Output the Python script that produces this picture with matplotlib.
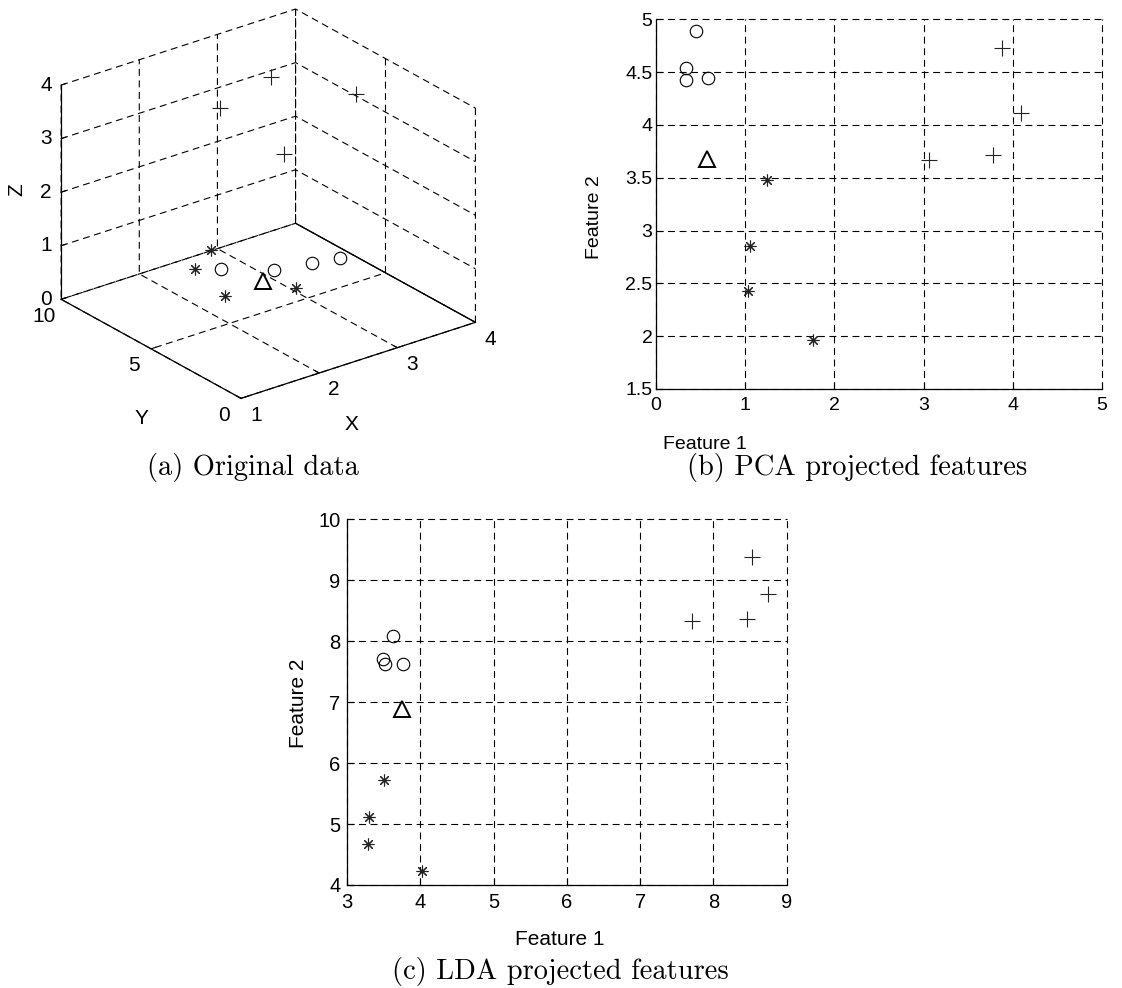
import matplotlib
matplotlib.use("Agg")
import matplotlib.pyplot as plt
from mpl_toolkits.mplot3d import Axes3D, proj3d  # noqa: F401

plt.rcParams["font.family"] = ["Liberation Sans", "DejaVu Sans"]
plt.rcParams["lines.scale_dashes"] = False

GRID_DASH = (0, (5, 3.3))

# ---- (a) original 3-D data ----
plus3_x = [3.20, 2.73, 3.64, 2.96]
plus3_y = [7.87, 8.69, 5.09, 6.13]
plus3_z = [3.5, 3.0, 3.5, 2.5]
circ3_x = [2.34, 2.75, 3.16, 3.46]
circ3_y = [6.95, 5.76, 5.43, 5.18]
circ3_z = [0.5, 0.5, 0.5, 0.5]
star3_x = [2.54, 2.13, 1.97, 2.67]
star3_y = [8.37, 7.47, 5.13, 4.21]
star3_z = [0.5, 0.5, 0.5, 0.5]
tri3_x = [2.50]
tri3_y = [5.30]
tri3_z = [0.5]
xticks3 = [1, 2, 3, 4]
yticks3 = [0, 5, 10]
zticks3 = [0, 1, 2, 3, 4]

# ---- (b) PCA projected features ----
pca_circ_x = [0.448, 0.332, 0.332, 0.586]
pca_circ_y = [4.89, 4.54, 4.426, 4.44]
pca_tri_x = [0.568]
pca_tri_y = [3.68]
pca_star_x = [1.247, 1.053, 1.034, 1.763]
pca_star_y = [3.476, 2.854, 2.428, 1.964]
pca_plus_x = [3.880, 4.089, 3.058, 3.783]
pca_plus_y = [4.732, 4.11, 3.665, 3.716]

# ---- (c) LDA projected features ----
lda_circ_x = [3.619, 3.492, 3.514, 3.765]
lda_circ_y = [8.085, 7.71, 7.63, 7.63]
lda_tri_x = [3.751]
lda_tri_y = [6.89]
lda_star_x = [3.496, 3.30, 3.282, 4.02]
lda_star_y = [5.72, 5.115, 4.68, 4.226]
lda_plus_x = [8.53, 8.74, 7.71, 8.453]
lda_plus_y = [9.385, 8.782, 8.326, 8.37]

captions = ["(a) Original data", "(b) PCA projected features",
            "(c) LDA projected features"]

STAR = (8, 2, 0)
mk_circ = dict(marker="o", mfc="none", mec="k", mew=0.8, ls="none", ms=9)
mk_star = dict(marker=STAR, mec="#222222", mew=0.8, ls="none", ms=8.5)
mk_plus = dict(marker="+", mec="#222222", mew=0.8, ls="none", ms=11)
mk_tri = dict(marker="^", mfc="none", mec="k", mew=1.4, ls="none", ms=11.3)

fig = plt.figure(figsize=(11.22, 9.88), dpi=100)


def px(x, y):
    return x / 1122.0, 1 - y / 988.0


# ---------------- 3-D panel ----------------
ax3 = fig.add_axes([-0.0243, 0.5516, 0.5156, 0.4717], projection="3d")
ax3.set_proj_type("ortho")
ax3.view_init(elev=25, azim=-127.5)
ax3.set_box_aspect((1, 1, 0.8))
ax3.set_xlim(1, 4)
ax3.set_ylim(0, 10)
ax3.set_zlim(0, 4)
ax3.set_xticks(xticks3)
ax3.set_yticks(yticks3)
ax3.set_zticks(zticks3)
for axis in (ax3.xaxis, ax3.yaxis, ax3.zaxis):
    axis.set_tick_params(labelbottom=False, labeltop=False)
    axis.pane.fill = False
    axis.pane.set_edgecolor("none")
    axis._axinfo["grid"].update(color="k", linewidth=0.8, linestyle=GRID_DASH)
    axis._axinfo["tick"]["inward_factor"] = 0.0
    axis._axinfo["tick"]["outward_factor"] = 0.25
    axis.line.set_color("k")
    axis.line.set_linewidth(0.9)
ax3.plot([4, 4], [10, 0], [0, 0], color="k", lw=0.9)
ax3.plot(plus3_x, plus3_y, plus3_z, **mk_plus)
ax3.plot(circ3_x, circ3_y, circ3_z, **mk_circ)
ax3.plot(star3_x, star3_y, star3_z, **mk_star)
ax3.plot(tri3_x, tri3_y, tri3_z, **mk_tri)

# axis titles of the 3-D panel, placed in figure pixels
fig.text(*px(141, 418), "Y", fontsize=15, ha="center", va="center")
fig.text(*px(351, 425), "X", fontsize=15, ha="center", va="center")
fig.text(*px(17, 190), "Z", fontsize=15, ha="center", va="center",
         rotation=90)


def style2d(ax, xlim, ylim, xticks, yticks, tsize, ypad):
    ax.set_xlim(*xlim)
    ax.set_ylim(*ylim)
    ax.set_xticks(xticks)
    ax.set_yticks(yticks)
    ax.set_xticklabels([f"{t:g}" for t in xticks])
    ax.set_yticklabels([f"{t:g}" for t in yticks])
    ax.grid(True, color="k", lw=0.8, ls=GRID_DASH)
    ax.spines["top"].set_visible(False)
    ax.spines["right"].set_visible(False)
    for s in ("left", "bottom"):
        ax.spines[s].set_linewidth(0.9)
    ax.tick_params(direction="in", length=5, width=0.8, labelsize=tsize,
                   top=False, right=False)
    ax.tick_params(axis="x", pad=6)
    ax.tick_params(axis="y", pad=ypad)
    for gl in ax.get_xgridlines() + ax.get_ygridlines():
        gl.set_clip_on(False)


# ---------------- PCA panel ----------------
axb = fig.add_axes([0.5847, 0.6063, 0.3975, 0.3742])
style2d(axb, (0, 5), (1.5, 5), [0, 1, 2, 3, 4, 5],
        [1.5, 2, 2.5, 3, 3.5, 4, 4.5, 5], 14, 2.5)
axb.plot(pca_circ_x, pca_circ_y, **mk_circ)
axb.plot(pca_tri_x, pca_tri_y, **mk_tri)
axb.plot(pca_star_x, pca_star_y, **mk_star)
axb.plot(pca_plus_x, pca_plus_y, **mk_plus)
axb.set_xlabel("Feature 1", fontsize=14)
axb.set_ylabel("Feature 2", fontsize=14)
axb.xaxis.set_label_coords(px(705, 0)[0], px(0, 436)[1], transform=fig.transFigure)
axb.yaxis.set_label_coords(px(603, 0)[0], px(0, 217)[1], transform=fig.transFigure)

# ---------------- LDA panel ----------------
axc = fig.add_axes([0.3095, 0.1043, 0.3916, 0.3701])
style2d(axc, (3, 9), (4, 10), [3, 4, 5, 6, 7, 8, 9],
        [4, 5, 6, 7, 8, 9, 10], 14.5, 5)
axc.plot(lda_circ_x, lda_circ_y, **mk_circ)
axc.plot(lda_tri_x, lda_tri_y, **mk_tri)
axc.plot(lda_star_x, lda_star_y, **mk_star)
axc.plot(lda_plus_x, lda_plus_y, **mk_plus)
axc.set_xlabel("Feature 1", fontsize=15)
axc.set_ylabel("Feature 2", fontsize=15)
axc.xaxis.set_label_coords(px(560, 0)[0], px(0, 930)[1], transform=fig.transFigure)
axc.yaxis.set_label_coords(px(308, 0)[0], px(0, 703)[1], transform=fig.transFigure)

# ---------------- captions ----------------
cap_pos = [(253, 468), (857, 468), (560, 971)]
for text, (cx, cy) in zip(captions, cap_pos):
    fig.text(*px(cx, cy), text, family="cmr10", fontsize=20.5,
             ha="center", va="center")

# ---- 3-D tick labels: project anchor points just outside the box edges
# and write them as flat figure text ----
fig.canvas.draw()
M = ax3.get_proj()
W, H = fig.bbox.width, fig.bbox.height


def label3d(x, y, z, s):
    x2, y2, _ = proj3d.proj_transform(x, y, z, M)
    dx, dy = ax3.transData.transform((x2, y2))
    fig.text(dx / W, dy / H, s, fontsize=15, ha="center", va="center")


for t in xticks3:
    label3d(t, -0.83, -0.16, f"{t}")
for t in yticks3:
    label3d(0.78, t, -0.21, f"{t}")
for t in zticks3:
    label3d(0.88, 10.31, t, f"{t}")

fig.savefig("out.png", dpi=100)
